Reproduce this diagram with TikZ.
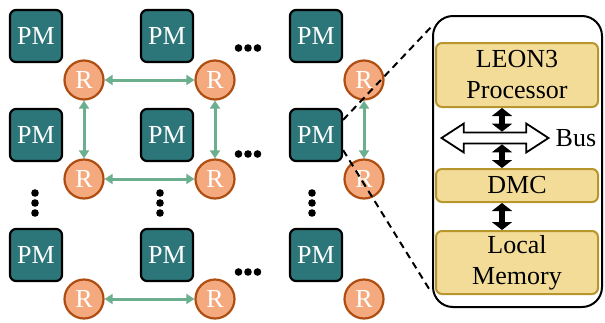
\documentclass[tikz,border=0pt]{standalone}
\usepackage{fontspec}
\setmainfont{Liberation Serif}
\usetikzlibrary{arrows.meta,positioning,shapes.arrows}
\definecolor{pmteal}{HTML}{2C767A}
\definecolor{rfill}{HTML}{F4AA7E}
\definecolor{rdraw}{HTML}{AE4E12}
\definecolor{linkgreen}{HTML}{6BAF8F}
\definecolor{blockfill}{HTML}{F2DC98}
\definecolor{blockdraw}{HTML}{B8962E}

\begin{document}
\begin{tikzpicture}[
    x=1pt, y=-1pt,
    node distance=44pt,
    font=\fontsize{26}{31}\selectfont,
    pm/.style={
		rectangle,
		rounded corners=6pt,
		draw=black,
		line width=2.2pt,
		fill=pmteal,
		text=white,
		minimum size=52pt,
		inner sep=0pt
	},
    router/.style={
		circle,
		draw=rdraw,
		line width=2.2pt,
		fill=rfill,
		text=white,
		minimum size=39pt,
		inner sep=0pt
	},
    link/.style={
		{Triangle[length=8pt,width=10pt]}-{Triangle[length=8pt,width=10pt]},
		draw=linkgreen,
		line width=3pt
	},
    panel/.style={
		rectangle,
		rounded corners=20pt,
		draw=black,
		line width=2pt,
		minimum width=169pt,
		minimum height=291pt
	},
    block/.style={
		rectangle,
		rounded corners=6pt,
		draw=blockdraw,
		line width=2pt,
		fill=blockfill,
		minimum width=162pt,
		align=center,
		inner sep=0pt
	},
    bus/.style={
		double arrow,
		draw=black,
		line width=1.8pt,
		fill=white,
		minimum height=107pt,
		minimum width=29pt,
		double arrow head extend=9pt,
		double arrow tip angle=66,
		inner xsep=0pt,
		inner ysep=4.5pt
	},
    bigarrow/.style={
		{Triangle[length=8pt,width=20pt]}-{Triangle[length=8pt,width=20pt]},
		line width=6pt
	},
    zoomline/.style={
		draw=black,
		line width=2pt,
		dash pattern=on 7pt off 5pt
	}
  ]
  \useasboundingbox (0,0) rectangle (605,322);

  % processing modules
  \node [pm] (pm11) at (36,36) {PM};
  \node [pm] (pm12) at (167,36) {PM};
  \node [pm] (pm13) at (316,36) {PM};
  \node [pm] (pm21) at (36,135) {PM};
  \node [pm] (pm22) at (167,135) {PM};
  \node [pm] (pm23) at (316,135) {PM};
  \node [pm] (pm31) at (36,255) {PM};
  \node [pm] (pm32) at (167,255) {PM};
  \node [pm] (pm33) at (316,255) {PM};

  % routers
  \node [router, below of=pm11, xshift=48pt] (r11) {R};
  \node [router, below of=pm12, xshift=48pt] (r12) {R};
  \node [router, below of=pm13, xshift=48pt] (r13) {R};
  \node [router, below of=pm21, xshift=48pt] (r21) {R};
  \node [router, below of=pm22, xshift=48pt] (r22) {R};
  \node [router, below of=pm23, xshift=48pt] (r23) {R};
  \node [router, below of=pm31, xshift=48pt] (r31) {R};
  \node [router, below of=pm32, xshift=48pt] (r32) {R};
  \node [router, below of=pm33, xshift=48pt] (r33) {R};

  \draw [link] (r11) -- (r12);
  \draw [link] (r21) -- (r22);
  \draw [link] (r31) -- (r32);
  \draw [link] (r11) -- (r21);
  \draw [link] (r12) -- (r22);
  \draw [link] (r13) -- (r23);

  % dots
  \fill (238.5,48) circle (3.8) (248,48) circle (3.8) (257.5,48) circle (3.8);
  \fill (238.5,154) circle (3.8) (248,154) circle (3.8) (257.5,154) circle (3.8);
  \fill (238.5,272) circle (3.8) (248,272) circle (3.8) (257.5,272) circle (3.8);
  \fill (35,193) circle (3.8) (35,203) circle (3.8) (35,213) circle (3.8);
  \fill (160,193) circle (3.8) (160,203) circle (3.8) (160,213) circle (3.8);
  \fill (312,193) circle (3.8) (312,203) circle (3.8) (312,213) circle (3.8);

  % zoomed module
  \node [panel] (zoom) at (517.5,161.5) {};
  \node [block, minimum height=64pt] (proc) at (517,75) {LEON3\\Processor};
  \node [block, minimum height=33pt] (dmc) at (517,185.5) {DMC};
  \node [block, minimum height=63pt] (mem) at (517,262.5) {Local\\Memory};
  \node [bus] (bus) at (495,138) {};
  \node [right=2pt of bus] (buslbl) {Bus};

  \coordinate (ax) at (502,0);
  \draw [bigarrow] (proc.south -| ax) -- (bus.north -| ax);
  \draw [bigarrow] (bus.south -| ax) -- (dmc.north -| ax);
  \draw [bigarrow] (dmc.south -| ax) -- (mem.north -| ax);

  \coordinate (ztop) at (433,25);
  \coordinate (zbot) at (431,292);
  \draw [zoomline] ([yshift=-12pt]pm23.north east) -- (ztop);
  \draw [zoomline] ([yshift=12pt]pm23.south east) -- (zbot);

\end{tikzpicture}
\end{document}
